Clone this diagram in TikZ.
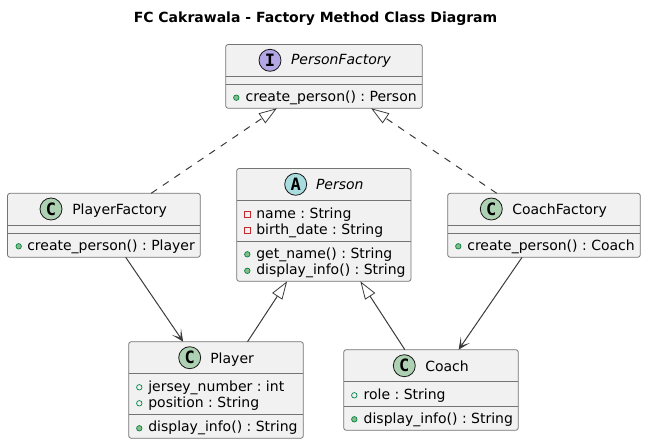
\documentclass[tikz,border=0pt]{standalone}
\usepackage{fontspec}
\setmainfont{DejaVu Sans}
\newfontfamily\glyphfont{DejaVu Sans Mono}
\usetikzlibrary{arrows.meta}
\frenchspacing
\definecolor{boxfill}{HTML}{F1F1F1}
\definecolor{boxline}{HTML}{181818}
\definecolor{cfill}{HTML}{ADD1B2}
\definecolor{ifill}{HTML}{B4A7E5}
\definecolor{afill}{HTML}{A9DCDF}
\definecolor{pubfill}{HTML}{84BE84}
\definecolor{publine}{HTML}{038048}
\definecolor{privline}{HTML}{C82930}
\tikzset{
  classbox/.style={draw=boxline!60,fill=boxfill,line width=0.8pt,rounded corners=2.5pt,inner sep=0pt,outer sep=0pt},
  sep/.style={draw=boxline!60,line width=0.8pt},
  label/.style={inner sep=0pt,outer sep=0pt,anchor=base west,font=\fontsize{14}{16}\selectfont\frenchspacing,text=black},
  badge/.style={circle,draw=boxline,line width=0.8pt,minimum size=22pt,inner sep=0pt,font=\glyphfont\bfseries\fontsize{17}{17}\selectfont,text=black},
  pubm/.style={circle,draw=publine,fill=pubfill,line width=0.7pt,minimum size=5.5pt,inner sep=0pt},
  pubf/.style={circle,draw=publine,fill=none,line width=0.7pt,minimum size=5.5pt,inner sep=0pt},
  privf/.style={rectangle,draw=privline,fill=none,line width=0.7pt,minimum size=6pt,inner sep=0pt},
  edge/.style={draw=boxline!85,line width=1pt},
  realize/.style={edge,dash pattern=on 7pt off 7pt,-{Triangle[open,length=18pt,width=12pt,line width=0.8pt,fill=white]}},
  inherit/.style={edge,-{Triangle[open,length=18pt,width=12pt,line width=0.8pt,fill=white]}},
  assoc/.style={edge,-{Stealth[length=12pt,width=11pt,inset=7pt]}}
}
\newcommand{\classrect}[5]{\node[classbox,minimum width=#4pt-#2pt,minimum height=#5pt-#3pt] (#1) at ({(#2+#4)/2},{(#3+#5)/2}) {};}
\newcommand{\seprule}[2]{\draw[sep] (#1.west |- 0,#2) -- (#1.east |- 0,#2);}
\begin{document}
\begin{tikzpicture}[x=1pt,y=-1pt]
\useasboundingbox (0,0) rectangle (646,444);
\node[label,anchor=base,font=\bfseries\fontsize{14}{16}\selectfont\frenchspacing] (title) at (315.5,23) {FC Cakrawala - Factory Method Class Diagram};

\classrect{personfactory}{225.7}{44.5}{422.3}{108.3}
\classrect{playerfactory}{7.5}{193.3}{200.3}{257.3}
\classrect{coachfactory}{447.7}{193.3}{640.3}{257.3}
\classrect{person}{236.7}{168.5}{411}{281.3}
\classrect{player}{128.7}{341.7}{303.3}{438.3}
\classrect{coach}{343.7}{349.7}{518.3}{430.3}

\seprule{personfactory}{76.7}\seprule{personfactory}{84.3}
\seprule{playerfactory}{225.3}\seprule{playerfactory}{233.3}
\seprule{coachfactory}{225.3}\seprule{coachfactory}{233.3}
\seprule{person}{200.7}\seprule{person}{241.3}
\seprule{player}{373.3}\seprule{player}{414.3}
\seprule{coach}{381.3}\seprule{coach}{406.7}

\node[badge,fill=ifill] (bpf) at (270,60.3) {I};
\node[label,font=\itshape\fontsize{14}{16}\selectfont] (tpf) at (291,65) {PersonFactory};
\node[pubm] (dpf) at (236.3,97.7) {};
\node[label] (mpf) at (245.7,102) {create\_person() : Person};

\node[badge,fill=cfill] (bplf) at (51,209) {C};
\node[label] (tplf) at (72.3,214.3) {PlayerFactory};
\node[pubm] (dplf) at (18.7,246.3) {};
\node[label] (mplf) at (27.3,250.7) {create\_person() : Player};

\node[badge,fill=cfill] (bcf) at (491.3,209) {C};
\node[label] (tcf) at (512.3,214.3) {CoachFactory};
\node[pubm] (dcf) at (458.3,246.3) {};
\node[label] (mcf) at (467.3,250.7) {create\_person() : Coach};

\node[badge,fill=afill] (bp) at (295.7,184.3) {A};
\node[label,font=\itshape\fontsize{14}{16}\selectfont] (tp) at (316,189.5) {Person};
\node[privf] (dp1) at (247.3,214) {};
\node[label] (mp1) at (256.3,218.5) {name : String};
\node[privf] (dp2) at (247.3,230) {};
\node[label] (mp2) at (256.3,234.5) {birth\_date : String};
\node[pubm] (dp3) at (247.3,254.3) {};
\node[label] (mp3) at (256.3,258.7) {get\_name() : String};
\node[pubm] (dp4) at (247.3,270.8) {};
\node[label] (mp4) at (256.3,274.7) {display\_info() : String};

\node[badge,fill=cfill] (bpl) at (189.7,357.7) {C};
\node[label] (tpl) at (210.3,363) {Player};
\node[pubf] (dpl1) at (139.3,387.3) {};
\node[label] (mpl1) at (148.3,391.7) {jersey\_number : int};
\node[pubf] (dpl2) at (139.3,403.3) {};
\node[label] (mpl2) at (148.3,407.7) {position : String};
\node[pubm] (dpl3) at (139.3,428.3) {};
\node[label] (mpl3) at (148.3,431.7) {display\_info() : String};

\node[badge,fill=cfill] (bc) at (404.3,365.7) {C};
\node[label] (tc) at (425.3,371) {Coach};
\node[pubf] (dc1) at (354.3,395.3) {};
\node[label] (mc1) at (363.7,399.7) {role : String};
\node[pubm] (dc2) at (354.3,419.3) {};
\node[label] (mc2) at (363.7,423.5) {display\_info() : String};

\draw[realize] (playerfactory) -- (personfactory);
\draw[realize] (coachfactory) -- (personfactory);
\draw[inherit] (player) -- (person);
\draw[inherit] (coach) -- (person);
\draw[assoc] (playerfactory) -- (player);
\draw[assoc] (coachfactory) -- (coach);
\end{tikzpicture}
\end{document}
